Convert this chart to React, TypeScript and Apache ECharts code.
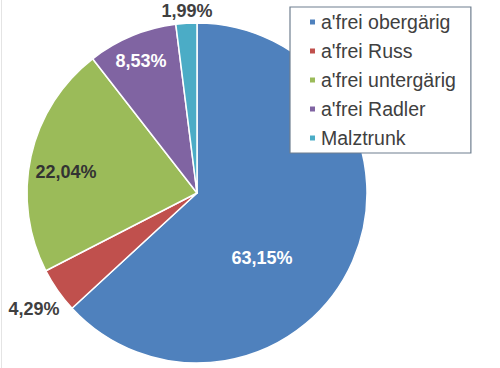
import React, { useEffect, useRef } from "react";
import * as echarts from "echarts";

const categories = ["a'frei obergärig", "a'frei Russ", "a'frei untergärig", "a'frei Radler", "Malztrunk"];
const values = [63.15, 4.29, 22.04, 8.53, 1.99];
const colors = ["#4F81BD", "#C0504D", "#9BBB59", "#8064A2", "#4BACC6"];
const labelColors = ["#ffffff", "#404040", "#333333", "#ffffff", "#404040"];
const labelPositions: [number, number][] = [
  [262, 258],
  [34, 309],
  [66, 172],
  [141, 61],
  [187, 11],
];

export default function App() {
  const ref = useRef<HTMLDivElement>(null);
  useEffect(() => {
    if (!ref.current) return;
    const chart = echarts.init(ref.current, undefined, { renderer: "svg" });
    chart.setOption({
      animation: false,
      backgroundColor: "#ffffff",
      color: colors,
      legend: {
        orient: "vertical",
        left: 290,
        top: 7,
        padding: [4, 15, 4, 18],
        itemWidth: 7,
        itemHeight: 7,
        itemGap: 7,
        icon: "rect",
        backgroundColor: "#ffffff",
        borderColor: "#6f7f8f",
        borderWidth: 1.2,
        textStyle: {
          fontFamily: "Liberation Sans",
          fontSize: 19.5,
          lineHeight: 22,
          color: "#404040",
        },
        data: categories,
      },
      graphic: [
        {
          type: "line",
          shape: { x1: 1.5, y1: 0, x2: 1.5, y2: 368 },
          style: { stroke: "#e4e4e4", lineWidth: 1 },
          silent: true,
        },
      ],
      series: [
        {
          type: "pie",
          center: [197, 193],
          radius: [0, 170],
          startAngle: 90,
          clockwise: true,
          avoidLabelOverlap: false,
          itemStyle: { borderColor: "#ffffff", borderWidth: 1.5 },
          label: {
            show: true,
            position: "inside",
            fontFamily: "Liberation Sans",
            fontWeight: "bold",
            fontSize: 18,
            formatter: (p: any) => p.value.toFixed(2).replace(".", ",") + "%",
          },
          labelLine: { show: false },
          labelLayout: (params: any) => {
            const pos = labelPositions[params.dataIndex];
            return { x: pos[0], y: pos[1], align: "center", verticalAlign: "middle" };
          },
          emphasis: { disabled: true },
          data: categories.map((name, i) => ({
            name,
            value: values[i],
            label: { color: labelColors[i] },
          })),
        },
      ],
    });
    return () => chart.dispose();
  }, []);
  return (
    <div
      ref={ref}
      style={{ position: "fixed", left: 0, top: 0, width: 500, height: 368 }}
    />
  );
}
